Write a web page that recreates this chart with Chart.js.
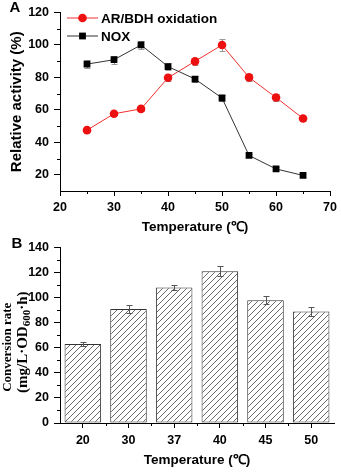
<!DOCTYPE html>
<html>
<head>
<meta charset="utf-8">
<script src="https://cdn.jsdelivr.net/npm/chart.js@4.4.0/dist/chart.umd.min.js"></script>
<style>
  body { margin: 0; background: #fff; }
  canvas { display: block; }
</style>
</head>
<body>
<canvas id="chartA" width="341" height="235"></canvas>
<canvas id="chartB" width="341" height="238"></canvas>
<script>
// Panel A: relative activity vs temperature
const tempA = [25, 30, 35, 40, 45, 50, 55, 60, 65];
const arbdh = [47.5, 57.6, 60.6, 79.8, 89.9, 100, 80, 67.6, 54.7];
const arbdhErr = [1, 1, 1, 2, 2, 3.5, 2, 2, 1.5];
const nox = [88.2, 90.9, 100, 86.7, 79, 67.3, 31.9, 23.6, 19.6];
const noxErr = [2.5, 2.5, 2.5, 2, 2, 2, 1, 1, 1];
const xTicksA = [20, 30, 40, 50, 60, 70];
const xMinorA = [25, 35, 45, 55, 65];
const yTicksA = [20, 40, 60, 80, 100, 120];
const yMinorA = [30, 50, 70, 90, 110];

// Panel B: conversion rate vs temperature
const tempB = ['20', '30', '37', '40', '45', '50'];
const convRate = [63, 91, 108, 121, 98, 89];
const convErr = [1.5, 3, 2, 4, 3, 3.5];
const yTicksB = [0, 20, 40, 60, 80, 100, 120, 140];
const yMinorB = [10, 30, 50, 70, 90, 110, 130];
const xMinorB = [0.5, 1.5, 2.5, 3.5, 4.5];
const yTitleB1 = 'Conversion rate';
const yTitleB2 = ['(mg/L·OD', '600', '·h)'];

const SANS = '"Liberation Sans", Arial, sans-serif';
const SERIF = '"Liberation Serif", "Times New Roman", serif';

const minorTicks = {
  id: 'minorTicks',
  afterDraw(chart, args, opts) {
    const ctx = chart.ctx;
    const xs = chart.scales.x, ys = chart.scales.y;
    ctx.save();
    ctx.strokeStyle = '#000';
    ctx.lineWidth = 1;
    (opts.x || []).forEach(v => {
      const px = Math.round(xs.getPixelForValue(v)) + 0.5;
      ctx.beginPath(); ctx.moveTo(px, xs.top); ctx.lineTo(px, xs.top + opts.len); ctx.stroke();
    });
    (opts.y || []).forEach(v => {
      const py = Math.round(ys.getPixelForValue(v)) + 0.5;
      ctx.beginPath(); ctx.moveTo(ys.right, py); ctx.lineTo(ys.right - opts.len, py); ctx.stroke();
    });
    ctx.restore();
  }
};

function drawErrors(chart, opts) {
  const ctx = chart.ctx, ys = chart.scales.y;
  chart.data.datasets.forEach((ds, di) => {
    if (!ds.errors) return;
    const meta = chart.getDatasetMeta(di);
    ctx.save();
    ctx.strokeStyle = opts.color;
    ctx.lineWidth = 1;
    meta.data.forEach((el, i) => {
      const d = ds.data[i];
      const v = typeof d === 'object' ? d.y : d;
      const e = ds.errors[i];
      const x = Math.round(el.x) + 0.5;
      const yTop = Math.round(ys.getPixelForValue(v + e)) + 0.5;
      const yBot = Math.round(ys.getPixelForValue(v - e)) + 0.5;
      ctx.beginPath();
      ctx.moveTo(x, yTop); ctx.lineTo(x, yBot);
      ctx.moveTo(x - opts.cap, yTop); ctx.lineTo(x + opts.cap, yTop);
      ctx.moveTo(x - opts.cap, yBot); ctx.lineTo(x + opts.cap, yBot);
      ctx.stroke();
    });
    ctx.restore();
  });
}

const errorBars = {
  id: 'errorBars',
  beforeDatasetsDraw(chart, args, opts) { if (opts.behind) drawErrors(chart, opts); },
  afterDatasetsDraw(chart, args, opts) { if (!opts.behind) drawErrors(chart, opts); }
};

const panelLabel = {
  id: 'panelLabel',
  afterDraw(chart, args, opts) {
    const ctx = chart.ctx;
    ctx.save();
    ctx.font = 'bold 15px ' + SANS;
    ctx.fillStyle = '#000';
    ctx.textAlign = 'center';
    ctx.textBaseline = 'middle';
    ctx.fillText(opts.text, opts.x, opts.y);
    ctx.restore();
  }
};

// legend drawn inside the plot area, top-left
const insideLegend = {
  id: 'insideLegend',
  afterDraw(chart) {
    const ctx = chart.ctx, a = chart.chartArea;
    const order = [1, 0];
    ctx.save();
    order.forEach((di, row) => {
      const ds = chart.data.datasets[di];
      const y = a.top + 5.5 + row * 18;
      const x0 = a.left + 7;
      ctx.strokeStyle = ds.borderColor;
      ctx.lineWidth = 1;
      ctx.beginPath(); ctx.moveTo(x0, y); ctx.lineTo(x0 + 31, y); ctx.stroke();
      ctx.fillStyle = ds.pointBackgroundColor;
      if (ds.pointStyle === 'circle') {
        ctx.beginPath(); ctx.arc(x0 + 15.5, y, ds.pointRadius, 0, Math.PI * 2); ctx.fill();
      } else {
        const s = ds.pointRadius * Math.SQRT1_2;
        ctx.fillRect(x0 + 15.5 - s, y - s, 2 * s, 2 * s);
      }
      ctx.fillStyle = '#000';
      ctx.font = 'bold 13.5px ' + SANS;
      ctx.textBaseline = 'middle';
      ctx.fillText(ds.label, x0 + 34, y + 1);
    });
    ctx.restore();
  }
};

const yTitleSub = {
  id: 'yTitleSub',
  afterDraw(chart) {
    const ctx = chart.ctx, a = chart.chartArea;
    const mid = (a.top + a.bottom) / 2;
    ctx.save();
    ctx.fillStyle = '#000';
    ctx.textBaseline = 'middle';
    ctx.translate(8, mid + 12);
    ctx.rotate(-Math.PI / 2);
    ctx.font = 'bold 13px ' + SERIF;
    ctx.textAlign = 'center';
    ctx.fillText(yTitleB1, 0, 0);
    ctx.restore();

    ctx.save();
    ctx.fillStyle = '#000';
    ctx.textBaseline = 'middle';
    ctx.translate(23, mid + 7);
    ctx.rotate(-Math.PI / 2);
    ctx.textAlign = 'left';
    const big = 'bold 15px ' + SERIF, small = 'bold 11px ' + SERIF;
    ctx.font = big; const w0 = ctx.measureText(yTitleB2[0]).width;
    ctx.font = small; const w1 = ctx.measureText(yTitleB2[1]).width;
    ctx.font = big; const w2 = ctx.measureText(yTitleB2[2]).width;
    let x = -(w0 + w1 + w2) / 2;
    ctx.font = big; ctx.fillText(yTitleB2[0], x, 0); x += w0;
    ctx.font = small; ctx.fillText(yTitleB2[1], x, 4); x += w1;
    ctx.font = big; ctx.fillText(yTitleB2[2], x, 0);
    ctx.restore();
  }
};

function makeHatch() {
  const c = document.createElement('canvas');
  c.width = 6; c.height = 6;
  const g = c.getContext('2d');
  g.fillStyle = '#fff';
  g.fillRect(0, 0, 6, 6);
  g.strokeStyle = '#6a6a6a';
  g.lineWidth = 1;
  g.beginPath();
  g.moveTo(0, 6); g.lineTo(6, 0);
  g.moveTo(-1, 1); g.lineTo(1, -1);
  g.moveTo(5, 7); g.lineTo(7, 5);
  g.stroke();
  return g.createPattern(c, 'repeat');
}

const tickFont = { family: SANS, size: 12.5, weight: 'bold' };
const titleFont = { family: SANS, size: 13.5, weight: 'bold' };

new Chart(document.getElementById('chartA'), {
  type: 'line',
  data: {
    datasets: [
      {
        label: 'NOX',
        data: tempA.map((t, i) => ({ x: t, y: nox[i] })),
        errors: noxErr,
        borderColor: '#333',
        borderWidth: 1,
        pointStyle: 'rect',
        pointRadius: 4.8,
        pointBackgroundColor: '#000',
        pointBorderWidth: 0,
        tension: 0
      },
      {
        label: 'AR/BDH oxidation',
        data: tempA.map((t, i) => ({ x: t, y: arbdh[i] })),
        errors: arbdhErr,
        borderColor: '#f03030',
        borderWidth: 1,
        pointStyle: 'circle',
        pointRadius: 4.3,
        pointBackgroundColor: '#ee1010',
        pointBorderWidth: 0,
        tension: 0
      }
    ]
  },
  options: {
    responsive: false,
    animation: false,
    layout: { padding: { top: 10, right: 7, left: 0, bottom: 0 } },
    scales: {
      x: {
        type: 'linear',
        min: 20, max: 70,
        afterBuildTicks: s => { s.ticks = xTicksA.map(v => ({ value: v })); },
        afterFit: s => { s.height = 44; },
        border: { display: true, color: '#000', width: 1 },
        grid: { drawOnChartArea: false, drawTicks: true, tickLength: 5, color: '#000' },
        ticks: { color: '#000', font: tickFont, padding: 4, maxRotation: 0 },
        title: { display: true, text: 'Temperature (℃)', color: '#000', font: titleFont, padding: { top: 0, bottom: 0 } }
      },
      y: {
        min: 10, max: 120,
        afterBuildTicks: s => { s.ticks = yTicksA.map(v => ({ value: v })); },
        afterFit: s => { s.width = 60; },
        border: { display: true, color: '#000', width: 1 },
        grid: { drawOnChartArea: false, drawTicks: true, tickLength: 6, color: '#000' },
        ticks: { color: '#000', font: tickFont, padding: 5 },
        title: { display: true, text: 'Relative activity (%)', color: '#000', font: { family: SANS, size: 15, weight: 'bold' }, padding: { top: 8, bottom: 0 } }
      }
    },
    plugins: {
      legend: { display: false },
      tooltip: { enabled: false },
      minorTicks: { x: xMinorA, y: yMinorA, len: 3 },
      errorBars: { behind: true, color: '#999', cap: 3 },
      panelLabel: { text: 'A', x: 15, y: 8 }
    }
  },
  plugins: [minorTicks, errorBars, panelLabel, insideLegend]
});

new Chart(document.getElementById('chartB'), {
  type: 'bar',
  data: {
    labels: tempB,
    datasets: [{
      label: 'Conversion rate',
      data: convRate,
      errors: convErr,
      backgroundColor: makeHatch(),
      borderColor: '#333',
      borderWidth: 1,
      borderSkipped: false,
      barPercentage: 0.8,
      categoryPercentage: 1
    }]
  },
  options: {
    responsive: false,
    animation: false,
    layout: { padding: { top: 9, right: 7, left: 0, bottom: 0 } },
    scales: {
      x: {
        offset: true,
        afterFit: s => { s.height = 50; },
        border: { display: true, color: '#000', width: 1 },
        grid: { offset: false, drawOnChartArea: false, drawTicks: true, tickLength: 5, color: '#000' },
        ticks: { color: '#000', font: tickFont, padding: 5, maxRotation: 0 },
        title: { display: true, text: 'Temperature (℃)', color: '#000', font: titleFont, padding: { top: 0, bottom: 5 } }
      },
      y: {
        min: 0, max: 140,
        afterBuildTicks: s => { s.ticks = yTicksB.map(v => ({ value: v })); },
        afterFit: s => { s.width = 60; },
        border: { display: true, color: '#000', width: 1 },
        grid: { drawOnChartArea: false, drawTicks: true, tickLength: 6, color: '#000' },
        ticks: { color: '#000', font: tickFont, padding: 5 }
      }
    },
    plugins: {
      legend: { display: false },
      tooltip: { enabled: false },
      minorTicks: { x: xMinorB, y: yMinorB, len: 3 },
      errorBars: { behind: false, color: '#555', cap: 3 },
      panelLabel: { text: 'B', x: 17, y: 9 }
    }
  },
  plugins: [minorTicks, errorBars, panelLabel, yTitleSub]
});
</script>
</body>
</html>
